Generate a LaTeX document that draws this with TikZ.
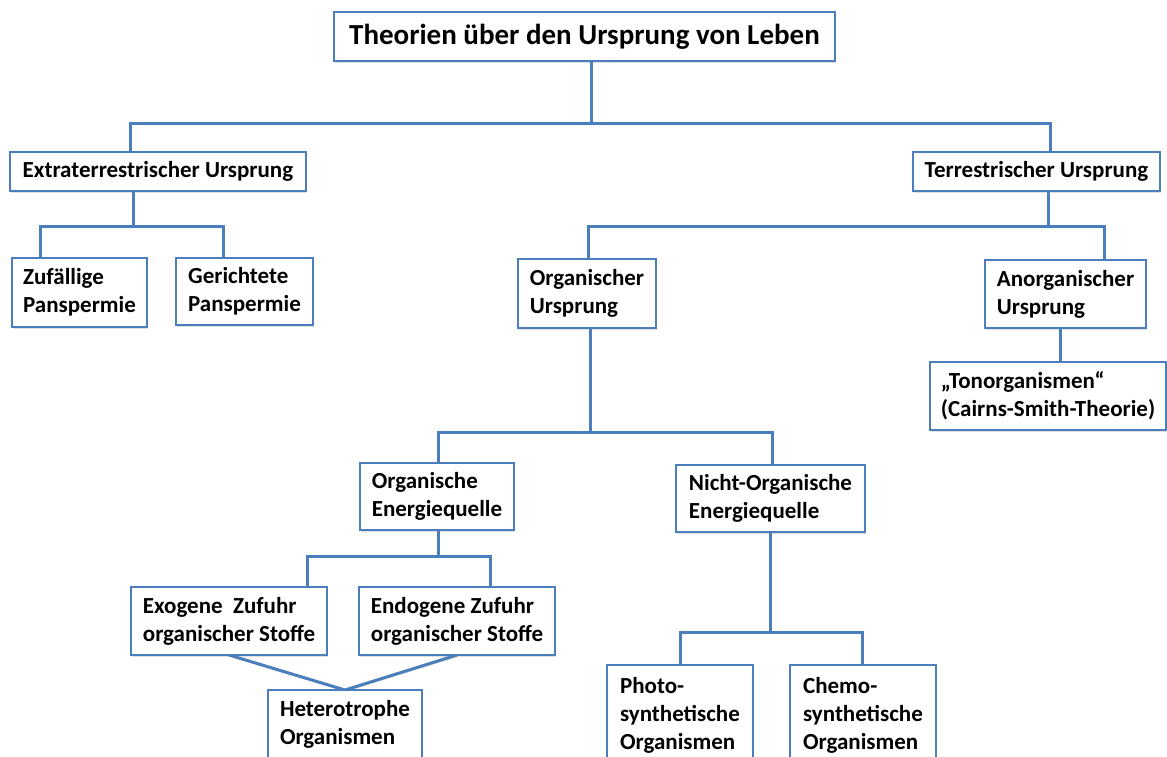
\documentclass[tikz,border=0pt]{standalone}
\usepackage{fontspec}
\setmainfont{Carlito}
\usetikzlibrary{shadows}
\definecolor{boxblue}{RGB}{74,126,188}
\pgfdeclarelayer{background}
\pgfsetlayers{background,main}
\begin{document}
\begin{tikzpicture}[x=1pt,y=-1pt,
  box/.style={draw=boxblue, line width=2.8pt, fill=white, align=left,
    inner sep=0pt, outer sep=0pt, anchor=north west,
    font=\bfseries\fontsize{23}{28}\selectfont,
    drop shadow={shadow xshift=1pt, shadow yshift=-1.5pt, opacity=0.25}},
  conn/.style={draw=boxblue, line width=3pt, line join=miter,
    preaction={draw=black!22, transform canvas={xshift=0.8pt, yshift=-1.4pt}}}]
\clip (0,0) rectangle (1167,756);

\node[box, align=center, minimum width=501pt, minimum height=49pt,
  font=\bfseries\fontsize{29}{32}\selectfont] (title) at (334,12)
  {Theorien über den Ursprung von Leben};
\node[box, align=center, minimum width=296pt, minimum height=39pt] (extra) at (10,152) {Extraterrestrischer Ursprung};
\node[box, align=center, minimum width=247pt, minimum height=39pt] (terr) at (913,152) {Terrestrischer Ursprung};
\node[box, minimum width=135pt, minimum height=69pt] (zuf) at (12,258) {Zufällige\\Panspermie};
\node[box, minimum width=137pt, minimum height=67pt] (ger) at (176,258) {Gerichtete\\Panspermie};
\node[box, minimum width=138pt, minimum height=69pt] (orgu) at (518,259) {Organischer\\Ursprung};
\node[box, minimum width=161pt, minimum height=68pt] (anorg) at (985,260) {Anorganischer\\Ursprung};
\node[box, minimum width=236pt, minimum height=68pt] (ton) at (930,362) {„Tonorganismen“\\(Cairns-Smith-Theorie)};
\node[box, minimum width=154pt, minimum height=67pt] (orge) at (360,463) {Organische\\Energiequelle};
\node[box, minimum width=189pt, minimum height=67pt] (nicht) at (676,465) {Nicht-Organische\\Energiequelle};
\node[box, minimum width=196pt, minimum height=68pt] (exo) at (131,587) {Exogene\ \ Zufuhr\\organischer Stoffe};
\node[box, minimum width=196pt, minimum height=68pt] (endo) at (359,587) {Endogene Zufuhr\\organischer Stoffe};
\node[box, minimum width=154pt, minimum height=68pt] (het) at (268,690) {Heterotrophe\\Organismen};
\node[box, minimum width=146pt, minimum height=100pt] (photo) at (607,665) {Photo-\\synthetische\\Organismen};
\node[box, minimum width=146pt, minimum height=100pt] (chemo) at (790,665) {Chemo-\\synthetische\\Organismen};

\coordinate (a0) at (591,123); \coordinate (a1) at (130,123); \coordinate (a2) at (1050,123);
\coordinate (b0) at (133,226); \coordinate (b1) at (40,226); \coordinate (b2) at (223,226);
\coordinate (c0) at (1048,226); \coordinate (c1) at (588,226); \coordinate (c2) at (1104,226);
\coordinate (d0) at (1060,0);
\coordinate (e0) at (590,432); \coordinate (e1) at (438,432); \coordinate (e2) at (772,432);
\coordinate (f0) at (438,556); \coordinate (f1) at (307,556); \coordinate (f2) at (490,556);
\coordinate (g0) at (770,632); \coordinate (g1) at (680,632); \coordinate (g2) at (862,632);

\begin{pgfonlayer}{background}
\fill[white] (0,0) rectangle (1167,756);
\draw[conn] (title.south -| a0) -- (a0);
\draw[conn] (extra.north -| a1) -- (a1) -- (a2) -- (terr.north -| a2);
\draw[conn] (extra.south -| b0) -- (b0);
\draw[conn] (zuf.north -| b1) -- (b1) -- (b2) -- (ger.north -| b2);
\draw[conn] (terr.south -| c0) -- (c0);
\draw[conn] (orgu.north -| c1) -- (c1) -- (c2) -- (anorg.north -| c2);
\draw[conn] (anorg.south -| d0) -- (ton.north -| d0);
\draw[conn] (orgu.south -| e0) -- (e0);
\draw[conn] (orge.north -| e1) -- (e1) -- (e2) -- (nicht.north -| e2);
\draw[conn] (orge.south -| f0) -- (f0);
\draw[conn] (exo.north -| f1) -- (f1) -- (f2) -- (endo.north -| f2);
\draw[conn] (exo.south) -- (het.north);
\draw[conn] (endo.south) -- (het.north);
\draw[conn] (nicht.south -| g0) -- (g0);
\draw[conn] (photo.north -| g1) -- (g1) -- (g2) -- (chemo.north -| g2);
\end{pgfonlayer}
\end{tikzpicture}
\end{document}
